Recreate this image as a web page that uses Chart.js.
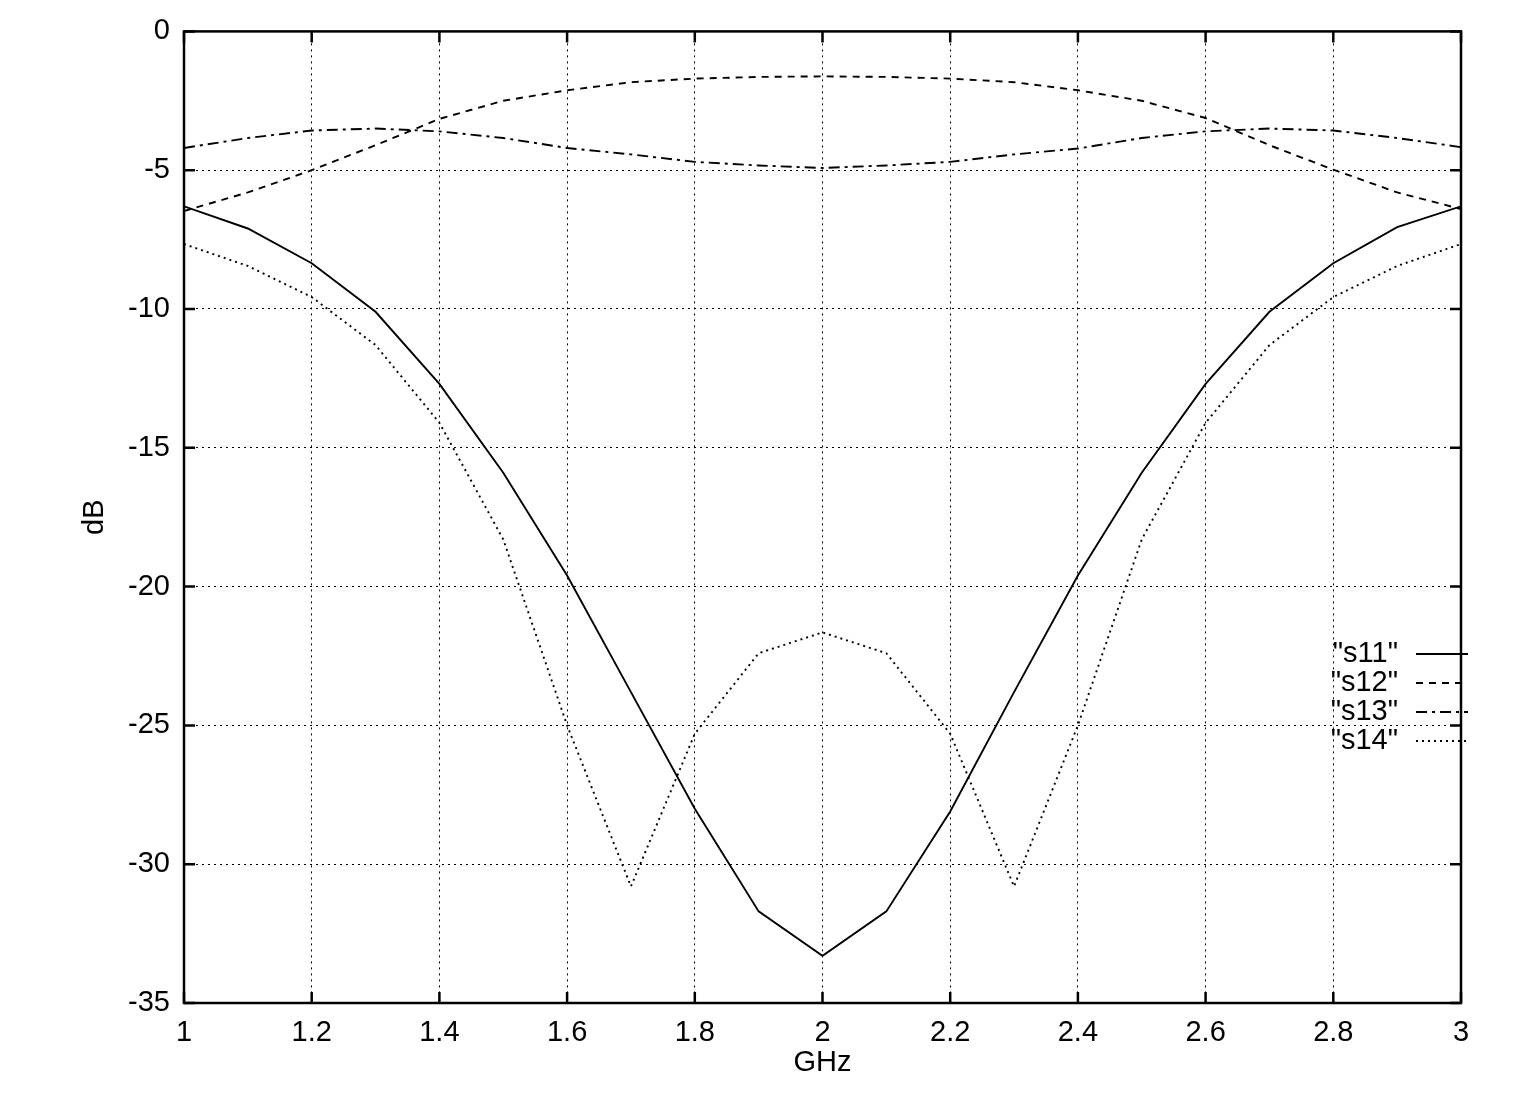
<!DOCTYPE html>
<html>
<head>
<meta charset="utf-8">
<script src="https://cdn.jsdelivr.net/npm/chart.js@4/dist/chart.umd.min.js"></script>
<style>
  html, body { margin: 0; padding: 0; background: #fff; }
</style>
</head>
<body>
<canvas id="myChart" width="1517" height="1116"></canvas>
<script>
// frequency points (GHz)
const freqs = [1.0, 1.1, 1.2, 1.3, 1.4, 1.5, 1.6, 1.7, 1.8, 1.9, 2.0,
               2.1, 2.2, 2.3, 2.4, 2.5, 2.6, 2.7, 2.8, 2.9, 3.0];

// S-parameters in dB
const s11 = [-6.3, -7.1, -8.35, -10.1, -12.7, -15.9, -19.6, -23.8, -28.0, -31.7, -33.3,
             -31.7, -28.1, -23.8, -19.6, -15.9, -12.7, -10.1, -8.35, -7.05, -6.3];
const s12 = [-6.47, -5.8, -5.0, -4.1, -3.15, -2.5, -2.12, -1.83, -1.70, -1.64, -1.62,
             -1.64, -1.70, -1.83, -2.12, -2.5, -3.12, -4.1, -4.98, -5.8, -6.4];
const s13 = [-4.2, -3.84, -3.57, -3.5, -3.6, -3.84, -4.2, -4.43, -4.7, -4.83, -4.92,
             -4.83, -4.7, -4.43, -4.22, -3.84, -3.6, -3.5, -3.57, -3.84, -4.17];
const s14 = [-7.66, -8.45, -9.57, -11.3, -14.1, -18.3, -25.0, -30.8, -25.3, -22.4, -21.65,
             -22.4, -25.3, -30.8, -25.0, -18.3, -14.1, -11.3, -9.57, -8.45, -7.66];

const xTicks = [1, 1.2, 1.4, 1.6, 1.8, 2, 2.2, 2.4, 2.6, 2.8, 3];
const yTicks = [0, -5, -10, -15, -20, -25, -30, -35];

const FONT = '"Liberation Sans", Arial, Helvetica, sans-serif';

const series = [
    { label: '"s11"', data: s11, dash: [] },
    { label: '"s12"', data: s12, dash: [7, 6] },
    { label: '"s13"', data: s13, dash: [11, 5, 3, 5] },
    { label: '"s14"', data: s14, dash: [2, 4] }
];

// gnuplot-like frame, inward ticks and key
const framePlugin = {
    id: 'frame',
    afterDatasetsDraw(chart) {
        const { ctx, chartArea: a, scales: { x, y } } = chart;
        ctx.save();
        ctx.strokeStyle = '#000';
        ctx.lineWidth = 2.5;
        ctx.setLineDash([]);
        ctx.strokeRect(a.left, a.top, a.right - a.left, a.bottom - a.top);
        const tl = 11;
        ctx.beginPath();
        xTicks.forEach(v => {
            const px = x.getPixelForValue(v);
            ctx.moveTo(px, a.bottom); ctx.lineTo(px, a.bottom - tl);
            ctx.moveTo(px, a.top); ctx.lineTo(px, a.top + tl);
        });
        yTicks.forEach(v => {
            const py = y.getPixelForValue(v);
            ctx.moveTo(a.left, py); ctx.lineTo(a.left + tl, py);
            ctx.moveTo(a.right, py); ctx.lineTo(a.right - tl, py);
        });
        ctx.stroke();

        // key
        ctx.font = '29px ' + FONT;
        ctx.fillStyle = '#000';
        ctx.textAlign = 'right';
        ctx.textBaseline = 'middle';
        ctx.lineWidth = 1.9;
        series.forEach((s, i) => {
            const ky = 654 + i * 29;
            ctx.fillText(s.label, a.right - 63, ky);
            ctx.setLineDash(s.dash);
            ctx.beginPath();
            ctx.moveTo(a.right - 45, ky);
            ctx.lineTo(a.right + 7, ky);
            ctx.stroke();
        });
        ctx.restore();
    }
};

const ctx = document.getElementById('myChart').getContext('2d');
new Chart(ctx, {
    type: 'line',
    data: {
        datasets: series.map(s => ({
            label: s.label,
            data: freqs.map((f, i) => ({ x: f, y: s.data[i] })),
            borderColor: '#000',
            borderWidth: 1.9,
            borderDash: s.dash,
            pointRadius: 0,
            tension: 0,
            fill: false
        }))
    },
    options: {
        responsive: false,
        animation: false,
        layout: { padding: { left: 74, top: 30, right: 56, bottom: 32 } },
        plugins: {
            legend: { display: false },
            tooltip: { enabled: false }
        },
        scales: {
            x: {
                type: 'linear',
                min: 1,
                max: 3,
                afterBuildTicks: scale => { scale.ticks = xTicks.map(v => ({ value: v })); },
                afterFit: scale => { scale.height = 81; },
                ticks: {
                    color: '#000',
                    font: { family: FONT, size: 29 },
                    padding: 13,
                    maxRotation: 0,
                    callback: v => String(v)
                },
                grid: { color: '#000', lineWidth: 1, drawTicks: false },
                border: { display: false, dash: [2, 4] },
                title: {
                    display: true,
                    text: 'GHz',
                    color: '#000',
                    font: { family: FONT, size: 29 },
                    padding: { top: 0, bottom: 4 }
                }
            },
            y: {
                type: 'linear',
                min: -35,
                max: 0,
                afterBuildTicks: scale => { scale.ticks = yTicks.map(v => ({ value: v })); },
                afterFit: scale => { scale.width = 110; },
                ticks: {
                    color: '#000',
                    font: { family: FONT, size: 29 },
                    padding: 14,
                    callback: v => String(v)
                },
                grid: { color: '#000', lineWidth: 1, drawTicks: false },
                border: { display: false, dash: [2, 4] },
                title: {
                    display: true,
                    text: 'dB',
                    color: '#000',
                    font: { family: FONT, size: 29 },
                    padding: { top: 4, bottom: 0 }
                }
            }
        }
    },
    plugins: [framePlugin]
});
</script>
</body>
</html>
